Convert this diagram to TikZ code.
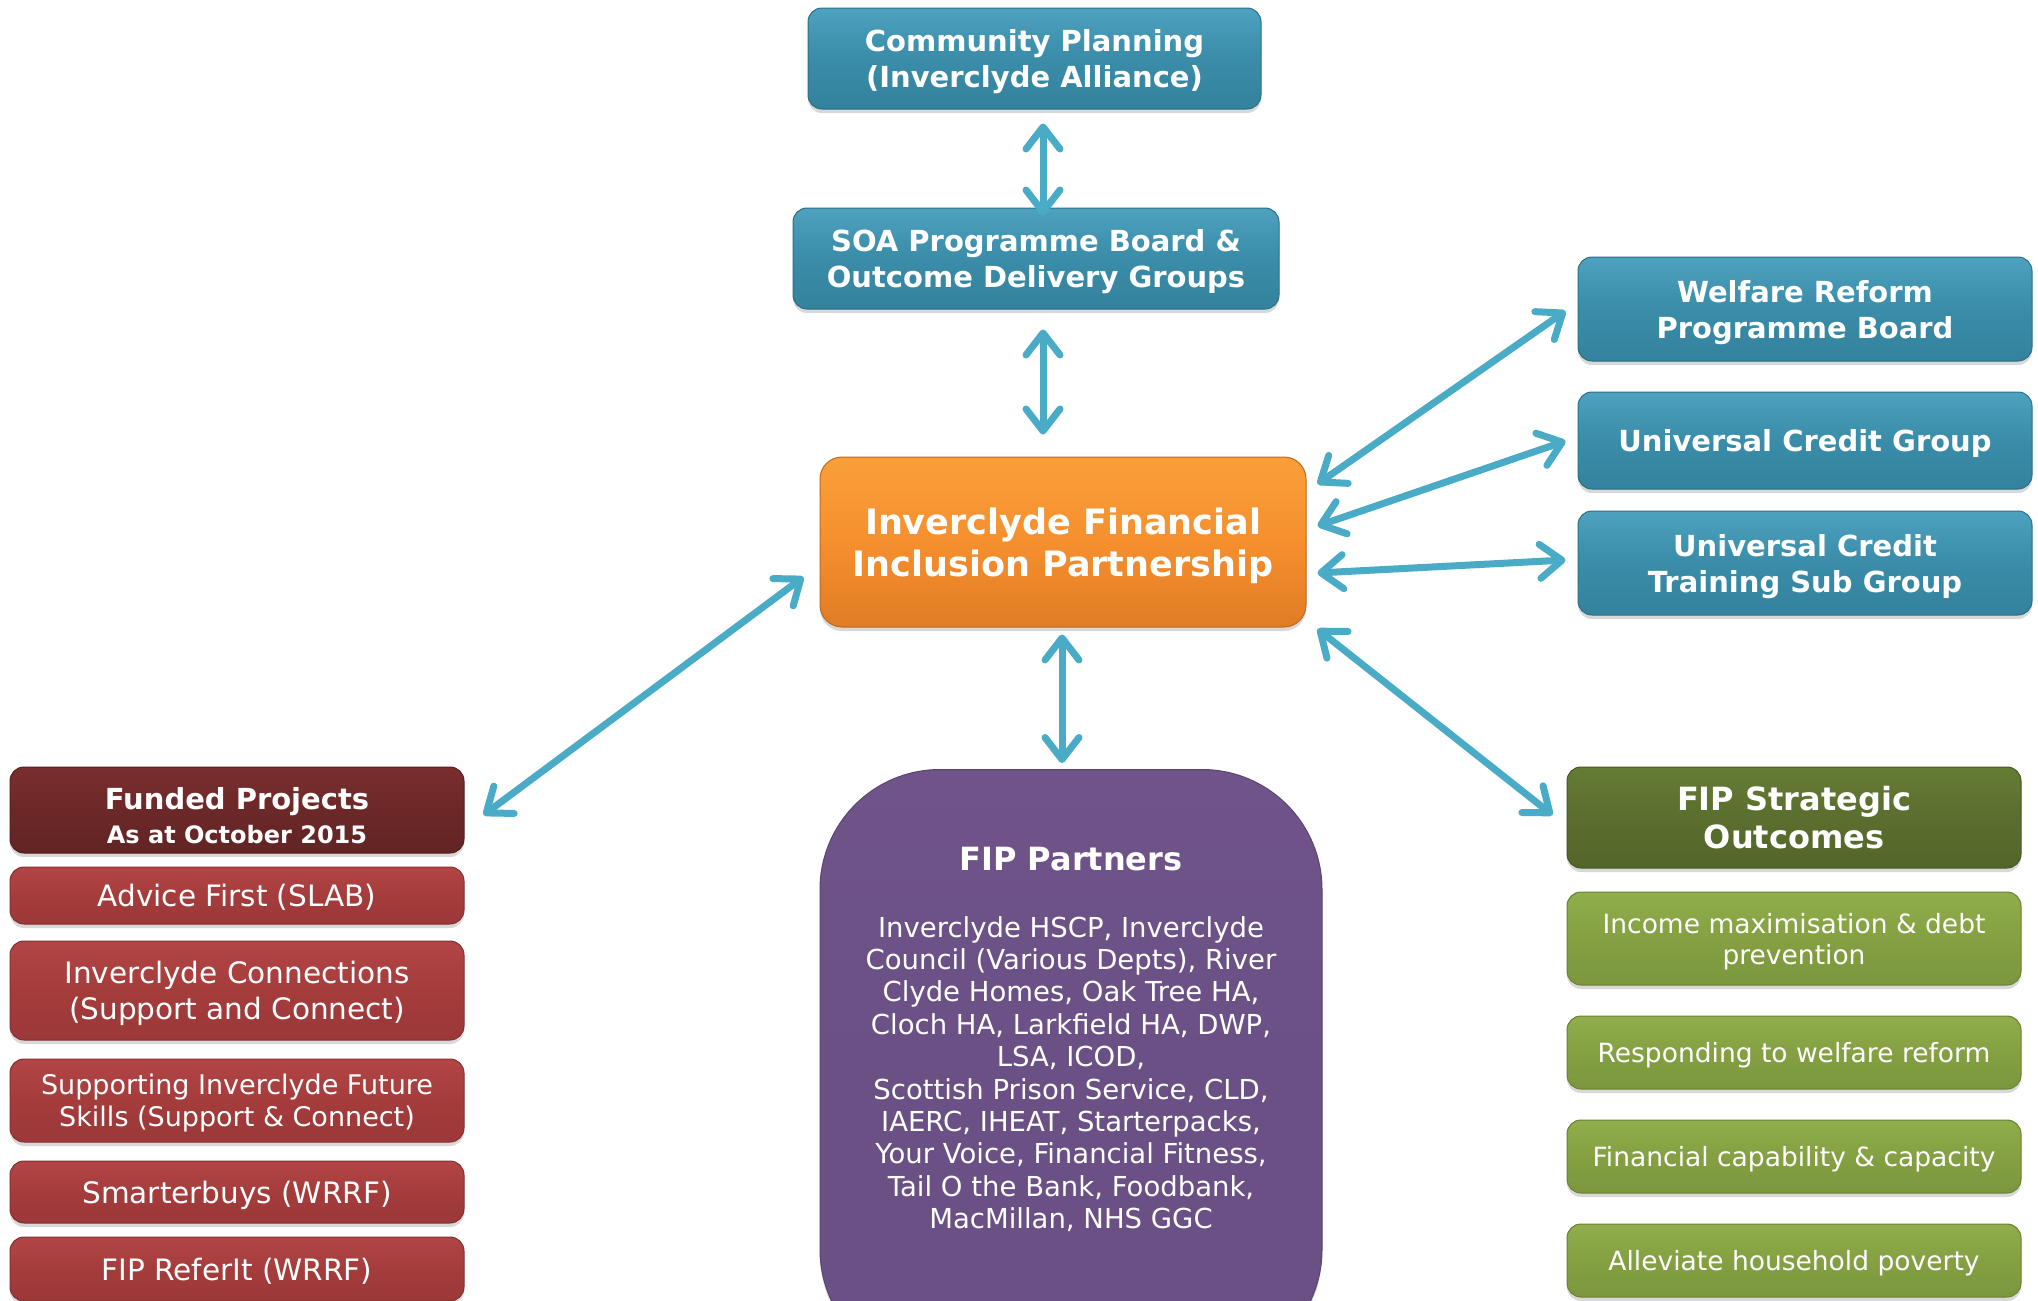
\documentclass[tikz,border=0pt]{standalone}
\usepackage{fontspec}
\setmainfont{DejaVu Sans}
\usetikzlibrary{arrows.meta,shadows}
\definecolor{tealA}{HTML}{4DA2BF}
\definecolor{tealB}{HTML}{3A8CA8}
\definecolor{tealC}{HTML}{34829D}
\definecolor{orgA}{HTML}{FA9F3A}
\definecolor{orgB}{HTML}{F58F2E}
\definecolor{orgC}{HTML}{E07C25}
\definecolor{purA}{HTML}{705489}
\definecolor{purB}{HTML}{6A5085}
\definecolor{dredA}{HTML}{7A2E2E}
\definecolor{dredB}{HTML}{6C2828}
\definecolor{dredC}{HTML}{622424}
\definecolor{lredA}{HTML}{B24545}
\definecolor{lredB}{HTML}{A53C3C}
\definecolor{lredC}{HTML}{9B3838}
\definecolor{dgrnA}{HTML}{657C34}
\definecolor{dgrnB}{HTML}{5A6E2E}
\definecolor{dgrnC}{HTML}{52662A}
\definecolor{lgrnA}{HTML}{91AE4C}
\definecolor{lgrnB}{HTML}{84A042}
\definecolor{lgrnC}{HTML}{7C973D}
\definecolor{arrowc}{HTML}{4AABC7}
\tikzset{
  x=1pt, y=-1pt,
  box/.style={rounded corners=14pt, text=white, align=center, inner sep=0pt, text depth=0pt,
    drop shadow={shadow xshift=0pt, shadow yshift=-4pt, opacity=0.3}},
  tealbox/.style={box, top color=tealA, bottom color=tealC, middle color=tealB, draw=tealC!85!black, line width=1pt,
    font=\bfseries\fontsize{29}{36}\selectfont},
  orangebox/.style={box, rounded corners=22pt, top color=orgA, bottom color=orgC, middle color=orgB, draw=orgC!85!black, line width=1pt,
    font=\bfseries\fontsize{35}{42}\selectfont},
  purplebox/.style={box, rounded corners=120pt, top color=purA, bottom color=purB, middle color=purB, draw=purB!85!black, line width=1pt},
  dredbox/.style={box, top color=dredA, bottom color=dredC, middle color=dredB, draw=dredC!85!black, line width=1pt},
  lredbox/.style={box, top color=lredA, bottom color=lredC, middle color=lredB, draw=lredC!85!black, line width=1pt,
    font=\fontsize{29.5}{36}\selectfont},
  dgrnbox/.style={box, top color=dgrnA, bottom color=dgrnC, middle color=dgrnB, draw=dgrnC!85!black, line width=1pt,
    font=\bfseries\fontsize{32}{38}\selectfont},
  lgrnbox/.style={box, top color=lgrnA, bottom color=lgrnC, middle color=lgrnB, draw=lgrnC!85!black, line width=1pt,
    font=\fontsize{26.5}{31}\selectfont},
  txt/.style={text=white, align=center, inner sep=0pt},
  arr/.style={draw=arrowc, line width=7pt,
    {Straight Barb[length=22pt,width=34pt,round]}-{Straight Barb[length=22pt,width=34pt,round]}},
}
\begin{document}
\begin{tikzpicture}
\path[use as bounding box, fill=white] (0,0) rectangle (2038,1301);

% top column
\node[tealbox, minimum width=453pt, minimum height=101pt] (cp) at (1034.5,58.5) {Community Planning\\(Inverclyde Alliance)};
\node[tealbox, minimum width=486pt, minimum height=101pt] (soa) at (1036,258.5) {SOA Programme Board \&\\Outcome Delivery Groups};
\node[orangebox, minimum width=486pt, minimum height=170pt] (ifip) at (1063,542) {Inverclyde Financial\\Inclusion Partnership};

% FIP partners
\node[purplebox, minimum width=502pt, minimum height=600pt, anchor=north] (fipp) at (1071,769) {};
\node[txt, font=\bfseries\fontsize{32}{38}\selectfont] (fippt) at (1071,859) {FIP Partners};
\node[txt, font=\fontsize{27.5}{32.4}\selectfont] (fippb) at (1071,1074) {Inverclyde HSCP, Inverclyde\\Council (Various Depts), River\\Clyde Homes, Oak Tree HA,\\Cloch HA, Larkfield HA, DWP,\\LSA, ICOD,\\Scottish Prison Service, CLD,\\IAERC, IHEAT, Starterpacks,\\Your Voice, Financial Fitness,\\Tail O the Bank, Foodbank,\\MacMillan, NHS GGC};

% right blue
\node[tealbox, minimum width=454pt, minimum height=104pt] (wrpb) at (1805,309) {Welfare Reform\\Programme Board};
\node[tealbox, minimum width=454pt, minimum height=97pt] (ucg) at (1805,440.5) {Universal Credit Group};
\node[tealbox, minimum width=454pt, minimum height=104pt] (uct) at (1805,563) {Universal Credit\\Training Sub Group};

% right green
\node[dgrnbox, minimum width=454pt, minimum height=101pt] (fso) at (1794,817.5) {FIP Strategic\\Outcomes};
\node[lgrnbox, minimum width=454pt, minimum height=93pt] (inc) at (1794,938.5) {Income maximisation \& debt\\prevention};
\node[lgrnbox, minimum width=454pt, minimum height=73pt] (resp) at (1794,1052.5) {Responding to welfare reform};
\node[lgrnbox, minimum width=454pt, minimum height=73pt] (fin) at (1794,1156.5) {Financial capability \& capacity};
\node[lgrnbox, minimum width=454pt, minimum height=73pt] (allv) at (1794,1260.5) {Alleviate household poverty};

% left red
\node[dredbox, minimum width=454pt, minimum height=86pt] (fund) at (237,810) {};
\node[txt, font=\bfseries\fontsize{29}{33}\selectfont] (fundt) at (237,802) {Funded Projects};
\node[txt, font=\bfseries\fontsize{24}{29}\selectfont] (funds) at (237,835) {As at October 2015};
\node[lredbox, minimum width=454pt, minimum height=57pt] (adv) at (237,895.5) {Advice First (SLAB)};
\node[lredbox, minimum width=454pt, minimum height=99pt] (conn) at (237,990.5) {Inverclyde Connections\\(Support and Connect)};
\node[lredbox, minimum width=454pt, minimum height=83pt, font=\fontsize{27}{32}\selectfont] (supp) at (237,1100.5) {Supporting Inverclyde Future\\Skills (Support \& Connect)};
\node[lredbox, minimum width=454pt, minimum height=62pt] (smart) at (237,1192) {Smarterbuys (WRRF)};
\node[lredbox, minimum width=454pt, minimum height=64pt] (refer) at (237,1269) {FIP ReferIt (WRRF)};

% connectors
\draw[arr] ([shift={(8.5,14)}]cp.south) -- ([shift={(7,8)}]soa.north);
\draw[arr] ([shift={(7,20)}]soa.south) -- ([shift={(-20,-22)}]ifip.north);
\draw[arr] ([shift={(-1,7)}]ifip.south) -- ([shift={(-9,-6)}]fipp.north);
\draw[arr] ([shift={(-16,35)}]ifip.west) -- ([shift={(19,5)}]fund.east);
\draw[arr] ([shift={(11,-58)}]ifip.east) -- ([shift={(-12,2)}]wrpb.west);
\draw[arr] ([shift={(11,-16)}]ifip.east) -- ([shift={(-12,0.5)}]ucg.west);
\draw[arr] ([shift={(11,31)}]ifip.east) -- ([shift={(-12,-3)}]uct.west);
\draw[arr] ([shift={(11,87)}]ifip.east) -- ([shift={(-14,-2.5)}]fso.west);
\end{tikzpicture}
\end{document}
